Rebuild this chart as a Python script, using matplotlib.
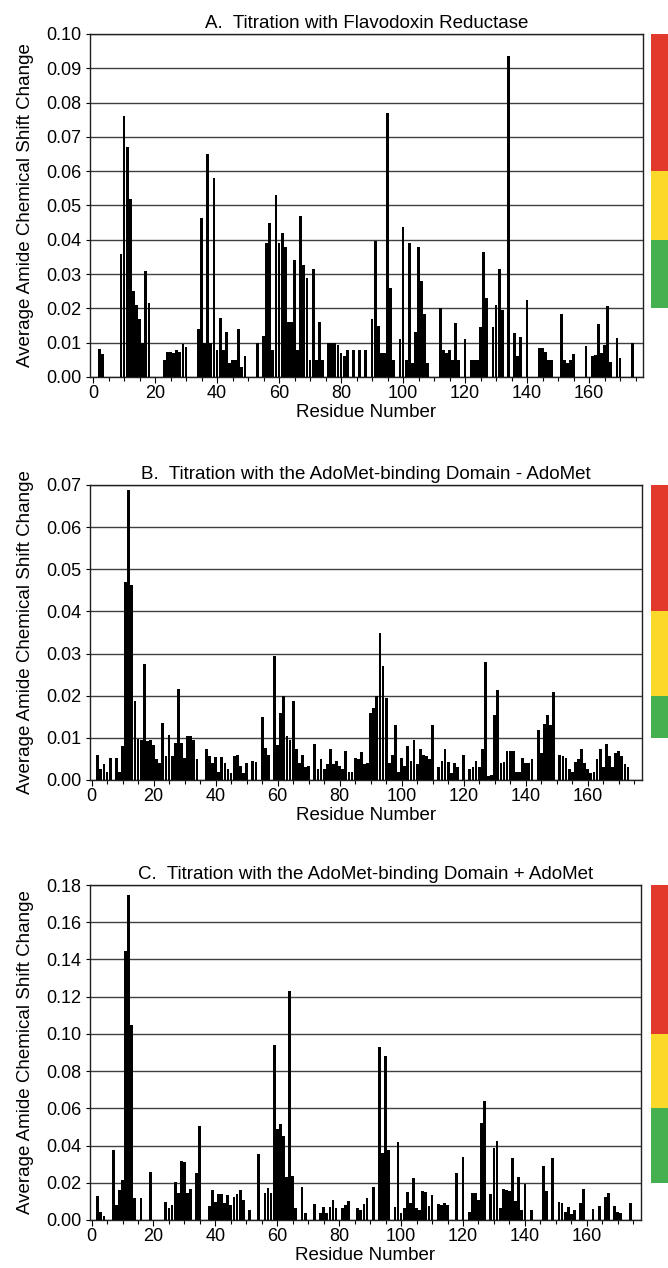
import matplotlib.pyplot as plt
from matplotlib.ticker import MultipleLocator, FormatStrFormatter

plt.rcParams['font.family'] = ['Liberation Sans', 'DejaVu Sans']

# Panel A: titration with flavodoxin reductase (residue, average amide shift change)
residues_a = [2, 3, 9, 10, 11, 12, 13, 14, 15, 16, 17, 18,
              23, 24, 25, 26, 27, 28, 29, 30,
              34, 35, 36, 37, 38, 39, 40, 41, 42, 43, 44, 45, 46, 47, 48, 49,
              53, 55, 56, 57, 58, 59, 60, 61, 62, 63, 64, 65, 66, 67, 68, 69, 70, 71, 72, 73, 74,
              76, 77, 78, 79, 80, 81, 82, 84, 86, 88,
              90, 91, 92, 93, 94, 95, 96, 97, 99, 100, 101, 102, 103, 104, 105, 106, 107, 108,
              112, 113, 114, 115, 116, 117, 118, 120, 122, 123, 124, 125, 126, 127,
              129, 130, 131, 132, 134, 136, 137, 138, 140, 144, 145, 146, 147, 148,
              151, 152, 153, 154, 155, 159, 161, 162, 163, 164, 165, 166, 167, 169, 170, 174]
shift_a = [0.0083, 0.0066, 0.036, 0.076, 0.067, 0.052, 0.025, 0.021, 0.017, 0.010, 0.031, 0.0217,
           0.005, 0.0072, 0.0072, 0.007, 0.008, 0.0074, 0.0095, 0.0088,
           0.014, 0.0465, 0.0098, 0.065, 0.0098, 0.058, 0.0079, 0.0173, 0.008, 0.013, 0.004, 0.005,
           0.005, 0.014, 0.003, 0.006,
           0.010, 0.012, 0.039, 0.045, 0.008, 0.053, 0.039, 0.042, 0.038, 0.016, 0.016, 0.034, 0.008,
           0.047, 0.0326, 0.029, 0.005, 0.0315, 0.005, 0.016, 0.005,
           0.0098, 0.0098, 0.0098, 0.0093, 0.007, 0.006, 0.008, 0.008, 0.008, 0.008,
           0.017, 0.0396, 0.015, 0.007, 0.007, 0.077, 0.026, 0.005, 0.011, 0.0436, 0.005, 0.039,
           0.004, 0.013, 0.038, 0.028, 0.0185, 0.004,
           0.020, 0.008, 0.007, 0.008, 0.005, 0.0156, 0.005, 0.011, 0.005, 0.005, 0.005, 0.0147,
           0.0365, 0.023,
           0.0147, 0.021, 0.0315, 0.0195, 0.0936, 0.0127, 0.006, 0.0117, 0.0224, 0.0085, 0.0085,
           0.0074, 0.005, 0.005,
           0.0183, 0.005, 0.004, 0.005, 0.0066, 0.009, 0.006, 0.0064, 0.0155, 0.007, 0.0093, 0.0208,
           0.0045, 0.0115, 0.0056, 0.0098]

# Panel B: AdoMet-binding domain without AdoMet
residues_b = [2, 3, 4, 5, 6, 8, 9, 10, 11, 12, 13, 14, 15, 16, 17, 18, 19, 20, 21, 22,
              23, 24, 25, 26, 27, 28, 29, 30, 31, 32, 33, 34, 37, 38, 39, 40, 41, 42, 43, 44,
              45, 46, 47, 48, 49, 50, 52, 53, 55, 56, 57, 59, 60, 61, 62, 63, 64, 65, 66, 67,
              68, 69, 70, 72, 73, 74, 75, 76, 77, 78, 79, 80, 81, 82, 83, 84, 85, 86, 87, 88,
              89, 90, 91, 92, 93, 94, 95, 96, 97, 98, 99, 100, 101, 102, 103, 104, 105, 106, 107, 108,
              109, 110, 112, 113, 114, 115, 116, 117, 118, 120, 122, 123, 124, 125, 126, 127, 128, 129,
              130, 131, 132, 133, 134, 135, 136, 137, 138, 139, 140, 141, 142, 144, 145, 146, 147, 148,
              149, 151, 152, 153, 154, 155, 156, 157, 158, 159, 160, 161, 162, 163, 164, 165, 166, 167,
              168, 169, 170, 171, 172, 173]
shift_b = [0.006, 0.0025, 0.0037, 0.002, 0.0053, 0.0053, 0.002, 0.008, 0.047, 0.0688, 0.0463, 0.0187,
           0.0098, 0.0096, 0.0276, 0.0092, 0.0095, 0.0082, 0.005, 0.004,
           0.0136, 0.0058, 0.0106, 0.0057, 0.0088, 0.0216, 0.0088, 0.0053, 0.0104, 0.0104, 0.0094, 0.005,
           0.0073, 0.0058, 0.004, 0.0055, 0.002, 0.0055, 0.004, 0.0027,
           0.0017, 0.0057, 0.006, 0.0033, 0.0017, 0.004, 0.0045, 0.0043, 0.015, 0.0077, 0.006, 0.0295,
           0.0082, 0.016, 0.020, 0.0104, 0.0096, 0.0187, 0.0073, 0.004,
           0.006, 0.003, 0.0033, 0.0085, 0.0027, 0.005, 0.0025, 0.0037, 0.0073, 0.0037, 0.0045, 0.0033,
           0.0027, 0.0069, 0.002, 0.002, 0.0053, 0.005, 0.0066, 0.0037,
           0.004, 0.016, 0.017, 0.020, 0.035, 0.027, 0.0195, 0.004, 0.006, 0.013, 0.002, 0.0053, 0.0033,
           0.008, 0.0045, 0.0094, 0.0037, 0.0074, 0.006, 0.0057,
           0.005, 0.013, 0.003, 0.0045, 0.0074, 0.0043, 0.0017, 0.004, 0.003, 0.006, 0.0025, 0.003,
           0.0045, 0.003, 0.0074, 0.028, 0.001, 0.0013,
           0.0155, 0.0213, 0.004, 0.0043, 0.0069, 0.0069, 0.0069, 0.002, 0.002, 0.0053, 0.004, 0.004,
           0.005, 0.0118, 0.0065, 0.0132, 0.0155, 0.013,
           0.021, 0.006, 0.0057, 0.0053, 0.0025, 0.002, 0.0043, 0.005, 0.0073, 0.004, 0.0025, 0.0017,
           0.002, 0.005, 0.0074, 0.003, 0.0085, 0.0057,
           0.003, 0.0065, 0.0069, 0.0057, 0.0037, 0.003]

# Panel C: AdoMet-binding domain with AdoMet
residues_c = [2, 3, 4, 7, 8, 9, 10, 11, 12, 13, 14, 16, 19, 24, 25, 26, 27, 28, 29, 30, 31, 32,
              34, 35, 38, 39, 40, 41, 42, 43, 44, 45, 46, 47, 48, 49, 51, 54, 56, 57, 58, 59, 60,
              61, 62, 63, 64, 65, 66, 68, 69, 72, 74, 75, 76, 77, 78, 79, 81, 82, 83, 86, 87, 88, 89,
              91, 93, 94, 95, 96, 98, 99, 100, 101, 102, 103, 104, 105, 106, 107, 108, 109, 110,
              112, 113, 114, 115, 118, 120, 122, 123, 124, 125, 126, 127, 129, 130, 131, 132, 133,
              134, 135, 136, 137, 138, 139, 140, 142, 146, 147, 149, 151, 152, 153, 154, 155, 156,
              158, 159, 162, 164, 166, 167, 169, 170, 171, 174]
shift_c = [0.0129, 0.0045, 0.002, 0.0376, 0.008, 0.016, 0.0215, 0.1445, 0.1746, 0.1047, 0.0116, 0.012,
           0.026, 0.0098, 0.0063, 0.008, 0.0206, 0.0143, 0.0319, 0.0313, 0.0143, 0.0165,
           0.0254, 0.0505, 0.0075, 0.016, 0.0098, 0.014, 0.014, 0.009, 0.0134, 0.008, 0.0125, 0.014,
           0.016, 0.011, 0.0054, 0.0355, 0.0143, 0.017, 0.0143, 0.094, 0.0487,
           0.0516, 0.0451, 0.0233, 0.1232, 0.0236, 0.0063, 0.018, 0.0036, 0.0086, 0.004, 0.0068, 0.0036,
           0.0072, 0.0107, 0.0063, 0.0063, 0.008, 0.0104, 0.0063, 0.0054, 0.0086, 0.0116,
           0.0176, 0.0931, 0.0362, 0.088, 0.0376, 0.0072, 0.042, 0.0036, 0.0063, 0.015, 0.009, 0.0224,
           0.0063, 0.0054, 0.0158, 0.015, 0.0075, 0.0134,
           0.0086, 0.008, 0.0093, 0.008, 0.025, 0.034, 0.0045, 0.0147, 0.0147, 0.0107, 0.0523, 0.0641,
           0.014, 0.0385, 0.0426, 0.0063, 0.0165,
           0.016, 0.0158, 0.0331, 0.0104, 0.0233, 0.0054, 0.0193, 0.0054, 0.029, 0.0158, 0.0331, 0.0098,
           0.009, 0.0045, 0.0072, 0.003, 0.0054,
           0.0093, 0.0165, 0.0057, 0.0075, 0.0122, 0.0147, 0.0075, 0.0045, 0.0036, 0.009]

titles = ["A.  Titration with Flavodoxin Reductase",
          "B.  Titration with the AdoMet-binding Domain - AdoMet",
          "C.  Titration with the AdoMet-binding Domain + AdoMet"]
y_max = [0.10, 0.07, 0.18]
y_step = [0.01, 0.01, 0.02]
# significance bands on the right: green / yellow / red lower and upper edges
band_edges = [[0.02, 0.04, 0.06, 0.10],
              [0.01, 0.02, 0.04, 0.07],
              [0.02, 0.06, 0.10, 0.18]]
band_colors = ["#45b04f", "#fbd92a", "#e1392c"]

W, H = 668, 1268
# pixel boxes (left, top, right, bottom) of each plot area
boxes = [(90, 34, 643, 377), (90, 485, 642, 780), (90, 885, 641, 1220)]
x_limits = [(-1.0, 177.4), (-0.5, 177.5), (-0.5, 177.5)]

fig = plt.figure(figsize=(W / 100, H / 100), dpi=100)


def pixel_axes(left, top, right, bottom):
    return fig.add_axes([left / W, 1 - bottom / H, (right - left) / W, (bottom - top) / H])


data = [(residues_a, shift_a), (residues_b, shift_b), (residues_c, shift_c)]
for i, (res, shift) in enumerate(data):
    left, top, right, bottom = boxes[i]
    ax = pixel_axes(left, top, right, bottom)
    ax.bar(res, shift, width=0.9, color="black", linewidth=0, zorder=3)
    ax.set_xlim(*x_limits[i])
    ax.set_ylim(0, y_max[i])
    ax.yaxis.set_major_locator(MultipleLocator(y_step[i]))
    ax.yaxis.set_major_formatter(FormatStrFormatter("%.2f"))
    ax.xaxis.set_minor_locator(MultipleLocator(5))
    ax.set_xticks(range(0, 161, 20))
    ax.grid(axis="y", color="#404040", linewidth=1.0, zorder=1)
    ax.set_axisbelow(True)
    for sp in ax.spines.values():
        sp.set_linewidth(1.0)
        sp.set_color("#202020")
    ax.tick_params(axis="x", which="major", direction="out", length=4, width=0.8, labelsize=13, pad=2)
    ax.tick_params(axis="x", which="minor", direction="out", length=3, width=0.8)
    ax.tick_params(axis="y", direction="out", length=3, width=0.8, labelsize=13, pad=3)
    ax.set_title(titles[i], fontsize=13.5, pad=4)
    ax.set_xlabel("Residue Number", fontsize=13.5, labelpad=1.5)
    ax.set_ylabel("Average Amide Chemical Shift Change", fontsize=13.5, labelpad=9)

    cax = pixel_axes(651, top, 668, bottom)
    edges = band_edges[i]
    for lo, hi, col in zip(edges[:-1], edges[1:], band_colors):
        cax.bar(0, hi - lo, bottom=lo, width=1.0, color=col, linewidth=0)
    cax.set_xlim(-0.5, 0.5)
    cax.set_ylim(0, y_max[i])
    cax.axis("off")

fig.savefig("out.png", dpi=100)
